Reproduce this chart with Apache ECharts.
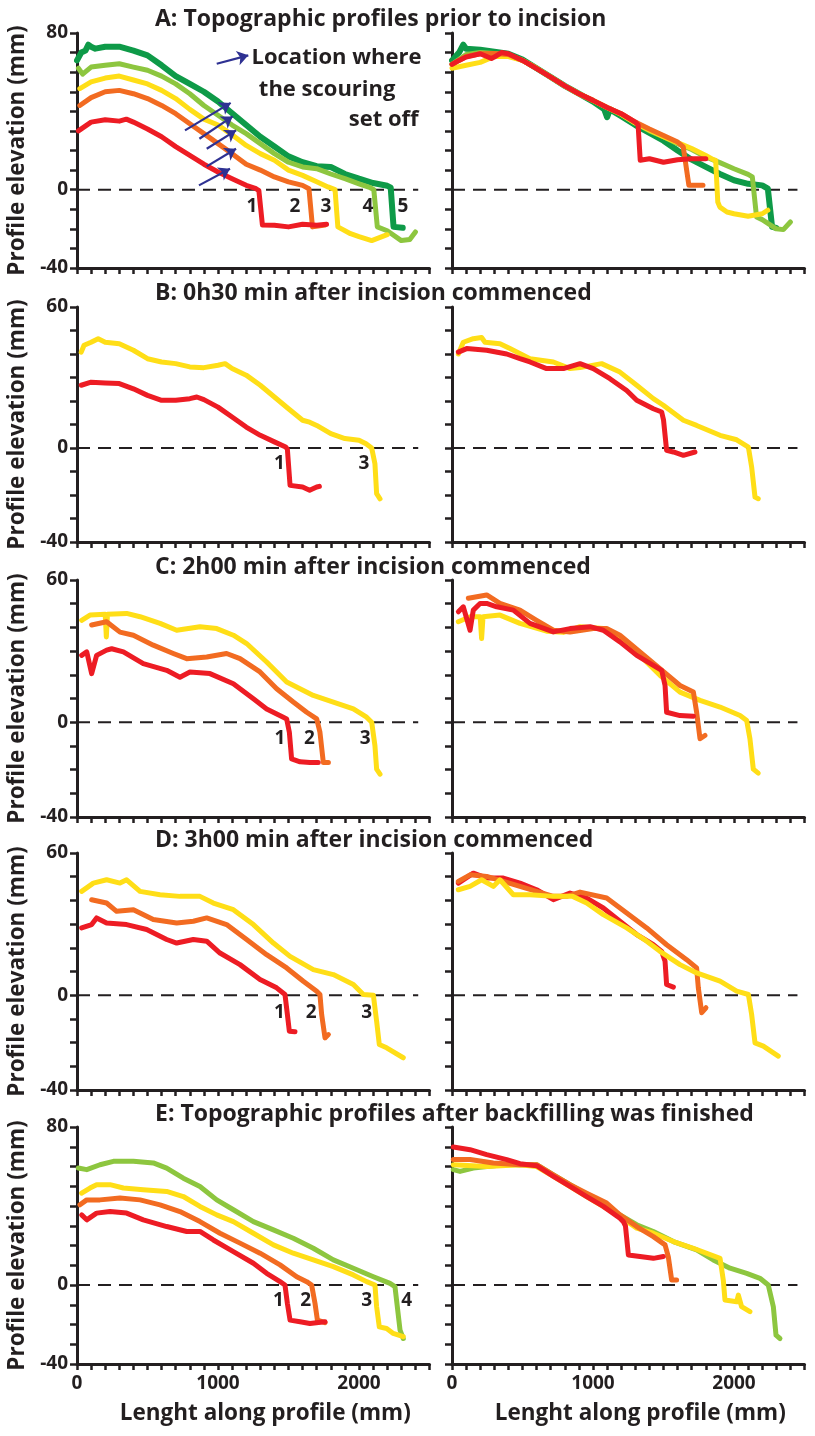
<!DOCTYPE html>
<html><head><meta charset="utf-8">
<script src="https://cdn.jsdelivr.net/npm/echarts@6/dist/echarts.min.js"></script>
<style>html,body{margin:0;padding:0;background:#fff}#c{width:815px;height:1436px}</style>
</head><body><div id="c"></div>
<script>
// ---------- DATA (x = length along profile, mm ; y = elevation, mm) ----------
const TITLES = [
  'A: Topographic profiles prior to incision',
  'B: 0h30 min after incision commenced',
  'C: 2h00 min after incision commenced',
  'D: 3h00 min after incision commenced',
  'E: Topographic profiles after backfilling was finished'
];
const Y_MAX = [80, 60, 60, 60, 80];
const Y_MIN = -40;
const X_TICK_LABELS = [0, 1000, 2000];
const ZERO_LEFT = [[0, 0], [2420, 0]];
const ZERO_RIGHT = [[0, 0], [2450, 0]];

// Panel A
const A_L_dgreen = [[0,66],[30,70],[60,71],[80,74],[100,73],[130,72],[200,73],[300,73],[400,71],[500,68.6],[600,63.5],[700,58],[800,54],[900,50],[1000,45],[1100,39],[1200,33],[1300,27],[1400,22],[1500,17],[1600,14],[1700,12],[1800,11.6],[1900,8],[2000,5.6],[2100,3.4],[2200,2],[2225,1],[2245,-19],[2310,-19.5]];
const A_L_lgreen = [[10,62],[40,59],[100,62.6],[200,63.5],[300,64.3],[400,62.6],[500,61],[600,58],[700,54],[800,49],[900,43],[1000,38],[1100,33],[1200,28.6],[1300,23.5],[1400,18.4],[1500,14],[1600,11.6],[1700,10.7],[1800,8],[1900,5.6],[2000,3],[2080,1],[2105,0],[2130,-19],[2200,-21],[2300,-26],[2360,-25.5],[2400,-21.6]];
const A_L_yellow = [[20,51.6],[100,55],[200,57],[300,58],[400,56],[500,54],[600,50.7],[700,46.5],[800,41],[900,36],[1000,33],[1100,28],[1200,22.6],[1300,18.4],[1400,15],[1500,10],[1600,7.3],[1700,4],[1780,1.4],[1830,0],[1850,-19],[1940,-22.5],[2000,-24],[2090,-26],[2200,-23]];
const A_L_orange = [[20,43],[100,47],[200,50],[300,50.7],[400,49],[500,46.5],[600,43],[700,38.8],[800,33.7],[900,28.6],[1000,23.5],[1100,18.4],[1200,13],[1300,10],[1400,6.5],[1500,4],[1600,2.2],[1645,0.5],[1670,-19],[1760,-18]];
const A_L_red = [[10,30],[100,34.5],[200,35.7],[300,35],[350,36],[400,34.5],[500,31],[600,27],[700,22],[800,17.5],[900,13],[1000,9],[1100,5.6],[1200,2.2],[1270,0.5],[1290,-0.5],[1315,-18],[1400,-18.2],[1500,-19],[1600,-17.7],[1700,-18.2],[1770,-17.7]];
const A_R_dgreen = [[0,66],[50,70],[80,74],[100,72],[200,71.5],[300,70.5],[400,69.4],[500,66.5],[600,62],[700,57.5],[800,53],[900,49],[1000,45],[1080,41],[1100,37],[1120,41],[1200,37.5],[1300,33],[1400,29],[1500,25],[1600,20],[1700,15.3],[1800,11.6],[1900,8],[2000,4.8],[2100,3],[2200,2.2],[2240,0.5],[2270,-19],[2300,-19.5]];
const A_R_lgreen = [[0,64],[100,69],[200,70],[300,69.5],[400,68.5],[500,66],[600,62],[700,57.5],[800,53],[900,49],[1000,45.5],[1100,42],[1200,38.5],[1300,34],[1400,30],[1500,27],[1600,23.5],[1700,20.5],[1800,16.7],[1900,13.8],[2000,10.7],[2100,7.8],[2130,6.5],[2160,-14],[2200,-15.3],[2300,-20],[2350,-20.4],[2400,-16.5]];
const A_R_yellow = [[0,62],[100,63.5],[200,65],[300,68],[400,68],[500,66],[600,62],[700,57.5],[800,53],[900,49],[1000,45.5],[1100,42],[1200,38.5],[1300,34],[1400,30.5],[1500,27],[1600,24],[1700,21],[1800,17.5],[1850,15.5],[1870,15],[1885,-6.3],[1900,-8.9],[1950,-11.4],[2000,-12.3],[2100,-13.6],[2200,-12.3],[2240,-10.5]];
const A_R_orange = [[0,64],[100,68],[200,69.4],[300,69.5],[400,69],[500,66],[600,62],[700,57.5],[800,53],[900,49],[1000,45.6],[1100,42],[1200,38.8],[1300,34.5],[1400,31],[1500,27.7],[1600,24.3],[1640,21.8],[1680,2.2],[1780,2.2]];
const A_R_red = [[0,64],[50,66],[100,67.7],[200,69.4],[280,67],[300,67.7],[350,70],[400,69.4],[500,66],[600,61.8],[700,57.5],[800,53],[900,49],[1000,45.6],[1100,42],[1200,38.8],[1300,34.5],[1320,33],[1335,15],[1400,15.8],[1500,14],[1600,15.3],[1700,15.8],[1800,15.8]];

// Panel B
const B_L_yellow = [[30,40.8],[50,43.7],[100,45],[150,46.5],[200,45],[300,44.4],[400,41.6],[500,38],[600,36.6],[700,35.9],[800,34.5],[900,34.2],[1000,35.2],[1050,35.9],[1100,33.8],[1200,31],[1300,26.7],[1400,21.7],[1500,16.7],[1600,11.8],[1650,11],[1700,9.6],[1800,6.1],[1900,4],[2000,3.3],[2050,1.8],[2090,0],[2113,-6.7],[2125,-19.4],[2149,-21.6]];
const B_L_red = [[30,26.7],[100,28],[200,27.7],[300,27.4],[400,25.2],[500,22.4],[600,20.3],[700,20.3],[800,21],[850,21.7],[900,20.6],[1000,17.4],[1100,13.2],[1200,8.9],[1300,5.4],[1400,2.6],[1480,0.4],[1492,-0.5],[1511,-15.9],[1600,-16.6],[1650,-18],[1700,-16.6],[1719,-16.3]];
const B_R_yellow = [[45,40],[80,45],[151,46.5],[210,47],[234,45],[340,44.4],[411,42.3],[553,38],[719,36.6],[837,33.8],[908,34.2],[1061,35.9],[1191,32.3],[1310,26.7],[1428,21],[1499,18.2],[1641,11.8],[1735,9.6],[1901,5.4],[2019,3.5],[2102,0.4],[2125,-8],[2149,-20.9],[2172,-21.6]];
const B_R_red = [[45,40.8],[104,42.3],[246,41.6],[388,40],[482,38],[553,36.6],[671,33.8],[790,33.8],[908,35.9],[1002,33.8],[1120,29.5],[1239,24.5],[1310,20.3],[1428,16.7],[1487,15.3],[1500,12],[1522,-1],[1570,-1.7],[1641,-3.1],[1723,-1.7]];

// Panel C
const C_L_yellow = [[33,43],[92,45.2],[200,45.5],[208,36],[216,45.5],[352,45.9],[447,44.5],[589,41.7],[707,38.8],[872,40.3],[991,39.5],[1109,36.7],[1203,33.2],[1345,25.4],[1487,17],[1676,11.3],[1818,8.5],[1960,5.6],[2054,2.1],[2090,0],[2113,-9.9],[2125,-19.8],[2149,-21.9]];
const C_L_orange = [[104,41],[210,42.4],[305,38],[400,36.7],[541,32.5],[683,29],[778,26.8],[920,27.5],[1061,29],[1156,26.8],[1298,21.2],[1416,14.1],[1534,8.5],[1629,4.2],[1700,1.4],[1723,-4.2],[1747,-17],[1783,-17]];
const C_L_red = [[33,28.2],[69,29.7],[104,20.5],[139,28.2],[210,30.4],[246,31],[329,29.7],[470,24.7],[636,21.9],[730,19],[801,21.2],[943,20.5],[1109,16.2],[1251,9.9],[1345,5.6],[1463,2.1],[1487,1.4],[1506,-4.2],[1522,-15.5],[1582,-16.7],[1652,-17],[1711,-17]];
const C_R_yellow = [[45,42.4],[128,44.5],[200,44.5],[210,35.3],[220,44.5],[340,45.2],[482,41.7],[671,38.4],[790,37.9],[908,40.3],[1073,39.5],[1191,35.3],[1333,28.2],[1475,19.8],[1617,12.7],[1759,9.2],[1901,6.4],[2043,2.8],[2090,0.7],[2113,-7],[2137,-19.8],[2172,-21.5]];
const C_R_orange = [[116,52.3],[246,53.7],[340,50.1],[482,47.3],[600,43],[719,38.8],[837,38.1],[1002,39.5],[1097,39.5],[1191,36.7],[1333,29.7],[1475,22.6],[1617,15.5],[1712,12.7],[1735,4.2],[1759,-7],[1794,-5.6]];
const C_R_red = [[45,46.6],[80,48.7],[128,38.8],[151,47.3],[199,50.1],[246,50.1],[317,48.7],[435,47.3],[553,41.7],[719,38.1],[837,39.5],[979,40.3],[1073,38.8],[1191,33.9],[1310,28.2],[1428,24],[1487,21.9],[1511,15.5],[1522,4.2],[1617,2.8],[1712,2.5]];

// Panel D
const D_L_yellow = [[33,43.8],[116,47.3],[210,48.7],[305,47.3],[352,48.7],[447,43.8],[589,42.4],[730,41.7],[872,41.7],[967,38.9],[1109,36.1],[1251,29.8],[1393,22],[1511,16.4],[1676,10.8],[1818,8.7],[1960,4.5],[2031,0.3],[2102,0],[2125,-11],[2144,-20.8],[2196,-22.2],[2314,-26.4]];
const D_L_orange = [[104,40.3],[210,38.9],[281,35.4],[400,36.1],[541,31.9],[707,30.5],[825,31.2],[920,32.6],[1061,29.8],[1203,23.5],[1345,17.1],[1487,11.5],[1605,5.9],[1700,1.7],[1723,0.3],[1735,-8.1],[1759,-18],[1783,-16.6]];
const D_L_red = [[33,28.4],[104,29.8],[139,32.6],[210,30.5],[352,29.8],[494,27.7],[636,23.5],[707,22],[825,23.5],[920,22.8],[1014,17.8],[1156,12.9],[1298,6.6],[1416,3.1],[1475,0.3],[1492,-8.1],[1506,-15.2],[1546,-15.4]];
const D_R_yellow = [[45,44.5],[128,45.9],[210,48.7],[293,45.9],[340,48.7],[435,42.4],[553,42.4],[719,41.7],[856,41.7],[955,38.9],[1073,34],[1239,28.4],[1381,22.8],[1475,18.5],[1617,12.9],[1735,9.4],[1901,5.9],[2019,1.7],[2102,0.3],[2125,-8.1],[2149,-20.1],[2208,-21.5],[2314,-25.7]];
const D_R_orange = [[45,48],[128,50.8],[246,50.1],[364,48],[482,45.9],[600,43.8],[719,41.7],[813,41.7],[908,43.5],[1097,41],[1239,34.7],[1381,28.4],[1522,21.3],[1664,15],[1735,11.5],[1747,3.1],[1771,-7.4],[1801,-5.3]];
const D_R_red = [[45,47.3],[151,51.5],[246,49.4],[364,49.4],[482,47.3],[600,44.5],[719,40.3],[837,43.1],[955,41],[1073,36.8],[1191,31.2],[1310,25.6],[1428,21.3],[1487,18.5],[1511,14.3],[1522,4.5],[1570,3.4]];

// Panel E
const E_L_lgreen = [[9,59.2],[69,58.4],[163,60.9],[258,62.6],[400,62.6],[541,61.8],[636,59.2],[754,54.1],[872,49.9],[991,43.1],[1109,38.1],[1251,32.1],[1393,27.9],[1534,23.7],[1676,18.6],[1818,12.7],[1960,8.5],[2102,4.2],[2220,0.8],[2255,-0.8],[2291,-22.8],[2314,-27.1]];
const E_L_yellow = [[33,46.5],[92,49.1],[139,50.8],[234,50.8],[329,49.1],[470,48.2],[636,47.4],[754,44.8],[872,39.8],[991,35.5],[1109,32.1],[1251,26.2],[1393,20.3],[1534,16.1],[1676,12.7],[1818,9.3],[1960,5.1],[2054,1.7],[2113,0],[2125,-11],[2144,-21.2],[2196,-22],[2243,-24.5],[2314,-26.2]];
const E_L_orange = [[21,40.6],[69,43.1],[163,43.1],[305,44],[447,43.1],[589,40.6],[730,37.2],[872,32.1],[1014,26.2],[1156,21.2],[1298,16.1],[1440,10.2],[1558,4.2],[1629,1.7],[1664,0],[1688,-9.3],[1705,-17.8],[1759,-19.1]];
const E_L_red = [[33,35.5],[69,33],[139,36.4],[234,37.2],[352,36.4],[470,33],[636,29.6],[778,27.1],[872,27.1],[967,22.8],[1109,16.9],[1251,11],[1345,5.9],[1440,1.7],[1475,0],[1492,-9.3],[1511,-17.8],[1582,-18.6],[1652,-19.5],[1759,-18.6]];
const E_R_lgreen = [[9,58.4],[57,57.5],[151,59.2],[364,60.9],[600,60.9],[719,55.8],[837,50.8],[955,45.7],[1191,35.5],[1310,30.5],[1428,27.1],[1570,22],[1735,17.8],[1853,12.7],[1972,8.5],[2090,5.9],[2184,3.4],[2243,0],[2279,-11],[2298,-25.4],[2326,-27.1]];
const E_R_yellow = [[9,60.9],[246,60],[482,60.9],[600,60],[719,55],[955,44.8],[1191,34.7],[1310,28.8],[1428,26.2],[1570,22],[1712,18.6],[1901,13.5],[1924,2.5],[1936,-7.6],[2019,-8.5],[2031,-5.1],[2054,-11],[2113,-13.5]];
const E_R_orange = [[9,63.5],[128,63.5],[293,61.8],[482,60.9],[600,60.9],[719,55.8],[837,50.8],[955,46.5],[1097,41.5],[1191,35.5],[1310,29.6],[1428,24.5],[1511,20.3],[1534,14.4],[1558,2.5],[1593,2.5]];
const E_R_red = [[9,69.9],[128,68.5],[246,66],[388,63.5],[482,61.4],[600,60.4],[719,55],[837,49.9],[955,44.8],[1073,39.8],[1191,33.8],[1215,32.1],[1230,30],[1251,15.2],[1333,14.4],[1428,13.5],[1499,14.4]];

// profile number labels [x, y, text]
const LBL_A = [[1241,-8.8,'1'],[1546,-8.8,'2'],[1766,-8.8,'3'],[2064,-8.8,'4'],[2312,-8.8,'5']];
const LBL_B = [[1435,-6.7,'1'],[2035,-6.7,'3']];
const LBL_C = [[1440,-7.1,'1'],[1648,-7.1,'2'],[2043,-7.1,'3']];
const LBL_D = [[1435,-7.4,'1'],[1660,-7.4,'2'],[2054,-7.4,'3']];
const LBL_E = [[1428,-8,'1'],[1622,-8,'2'],[2054,-8,'3'],[2338,-8,'4']];

// arrows in panel A (tail, head)
const ARROWS_A = [
  [[766,30.3],[1090,44.3]],
  [[868,26],[1104,37.4]],
  [[920,20.9],[1128,30.3]],
  [[920,11.9],[1128,20.9]],
  [[865,2.2],[1085,10.7]],
  [[991,64.3],[1215,68.6]]
];
const NOTE_A = [[1234,67.3,'Location where'],[1286,50.9,'the scouring'],[1924,35.6,'set off']];

// ---------- BUILD ----------
const C = {red:'#ED1C24', orange:'#F26B21', yellow:'#FFDE17', lgreen:'#8DC63F', dgreen:'#0E9A48'};
const TXT = '#231f20';
const FONT = "'Open Sans', 'Noto Sans', sans-serif";

const PANELS = [
  {L:[['dgreen',A_L_dgreen],['lgreen',A_L_lgreen],['yellow',A_L_yellow],['orange',A_L_orange],['red',A_L_red]],
   R:[['dgreen',A_R_dgreen],['lgreen',A_R_lgreen],['yellow',A_R_yellow],['orange',A_R_orange],['red',A_R_red]], lbl:LBL_A},
  {L:[['yellow',B_L_yellow],['red',B_L_red]], R:[['yellow',B_R_yellow],['red',B_R_red]], lbl:LBL_B},
  {L:[['yellow',C_L_yellow],['orange',C_L_orange],['red',C_L_red]], R:[['yellow',C_R_yellow],['orange',C_R_orange],['red',C_R_red]], lbl:LBL_C},
  {L:[['yellow',D_L_yellow],['orange',D_L_orange],['red',D_L_red]], R:[['red',D_R_red],['orange',D_R_orange],['yellow',D_R_yellow]], lbl:LBL_D},
  {L:[['lgreen',E_L_lgreen],['yellow',E_L_yellow],['orange',E_L_orange],['red',E_L_red]],
   R:[['lgreen',E_R_lgreen],['yellow',E_R_yellow],['orange',E_R_orange],['red',E_R_red]], lbl:LBL_E}
];

const ROWS = [{top:33,h:235},{top:307,h:235},{top:580,h:237},{top:853,h:237},{top:1127,h:237}];
const COLS = [77, 452];
const GW = 352.5;
const TITLE_TOP = [7, 281, 555, 828, 1102];

const grids = [], xAxes = [], yAxes = [], series = [], titles = [];
ROWS.forEach((r, ri) => {
  titles.push({text: TITLES[ri], left: 155, top: TITLE_TOP[ri], padding: 0,
    textStyle: {fontFamily: FONT, fontSize: 23, fontWeight: 'bold', color: TXT, lineHeight: 24}});
  COLS.forEach((cl, ci) => {
    const gi = ri * 2 + ci;
    grids.push({left: cl, top: r.top, width: GW, height: r.h, containLabel: false});
    const last = ri === 4;
    xAxes.push({
      type: 'value', gridIndex: gi, min: 0, max: 2500, interval: 100, position: 'bottom',
      axisLine: {show: true, onZero: false, lineStyle: {color: TXT, width: 3}},
      axisTick: {show: true, length: 6, lineStyle: {color: TXT, width: 2.5}},
      splitLine: {show: false},
      axisLabel: {show: last, interval: 0, margin: 10, color: TXT, fontFamily: FONT, fontSize: 19, fontWeight: 'bold',
        formatter: v => X_TICK_LABELS.indexOf(v) >= 0 ? String(v) : ''},
      name: last ? 'Lenght along profile (mm)' : '', nameLocation: 'middle', nameGap: 38,
      nameTextStyle: {color: TXT, fontFamily: FONT, fontSize: 22.5, fontWeight: 'bold', padding: [0, 0, 0, 24]}
    });
    const ymax = Y_MAX[ri];
    yAxes.push({
      type: 'value', gridIndex: gi, min: Y_MIN, max: ymax, interval: 10,
      axisLine: {show: true, onZero: false, lineStyle: {color: TXT, width: 3}},
      axisTick: {show: true, length: 7, lineStyle: {color: TXT, width: 2.5}},
      splitLine: {show: false},
      axisLabel: {show: ci === 0, margin: 9, color: TXT, fontFamily: FONT, fontSize: 19, fontWeight: 'bold',
        formatter: v => (v === ymax || v === 0 || v === Y_MIN) ? String(v) : ''},
      name: ci === 0 ? 'Profile elevation (mm)' : '', nameLocation: 'middle', nameGap: 48,
      nameTextStyle: {color: TXT, fontFamily: FONT, fontSize: 22.5, fontWeight: 'bold'}
    });
    // zero dashed line
    series.push({type: 'line', xAxisIndex: gi, yAxisIndex: gi, data: ci === 0 ? ZERO_LEFT : ZERO_RIGHT,
      showSymbol: false, silent: true, z: 1,
      lineStyle: {color: TXT, width: 2, type: [13, 8]}});
    const list = ci === 0 ? PANELS[ri].L : PANELS[ri].R;
    list.forEach(([col, data]) => {
      series.push({type: 'line', xAxisIndex: gi, yAxisIndex: gi, data: data, showSymbol: false, z: 2,
        lineStyle: {color: C[col], width: col === 'dgreen' ? 6 : 5, join: 'round', cap: 'round'},
        itemStyle: {color: C[col]}});
    });
    if (ci === 0) {
      series.push({type: 'scatter', xAxisIndex: gi, yAxisIndex: gi, data: PANELS[ri].lbl, symbolSize: 1,
        itemStyle: {color: 'rgba(0,0,0,0)', opacity: 1}, z: 5, silent: true,
        label: {show: true, position: 'inside', formatter: p => p.value[2], color: TXT, opacity: 1,
          fontFamily: FONT, fontSize: 19, fontWeight: 'bold'}});
    }
  });
});

// arrows + note in panel A left
series.push({type: 'lines', coordinateSystem: 'cartesian2d', xAxisIndex: 0, yAxisIndex: 0, z: 6,
  data: ARROWS_A.map(c => ({coords: c})), symbol: ['none', 'arrow'], symbolSize: [0, 11],
  lineStyle: {color: '#2E3192', width: 2.2, opacity: 1}});
series.push({type: 'scatter', xAxisIndex: 0, yAxisIndex: 0, data: NOTE_A, symbolSize: 1, z: 6, silent: true,
  itemStyle: {color: 'rgba(0,0,0,0)', opacity: 1},
  label: {show: true, position: 'right', distance: 0, formatter: p => p.value[2], color: TXT, opacity: 1,
    fontFamily: FONT, fontSize: 22, fontWeight: 'bold'}});

const chart = echarts.init(document.getElementById('c'), null, {renderer: 'canvas'});
chart.setOption({animation: false, backgroundColor: '#fff', title: titles, grid: grids,
  xAxis: xAxes, yAxis: yAxes, series: series});
</script></body></html>
